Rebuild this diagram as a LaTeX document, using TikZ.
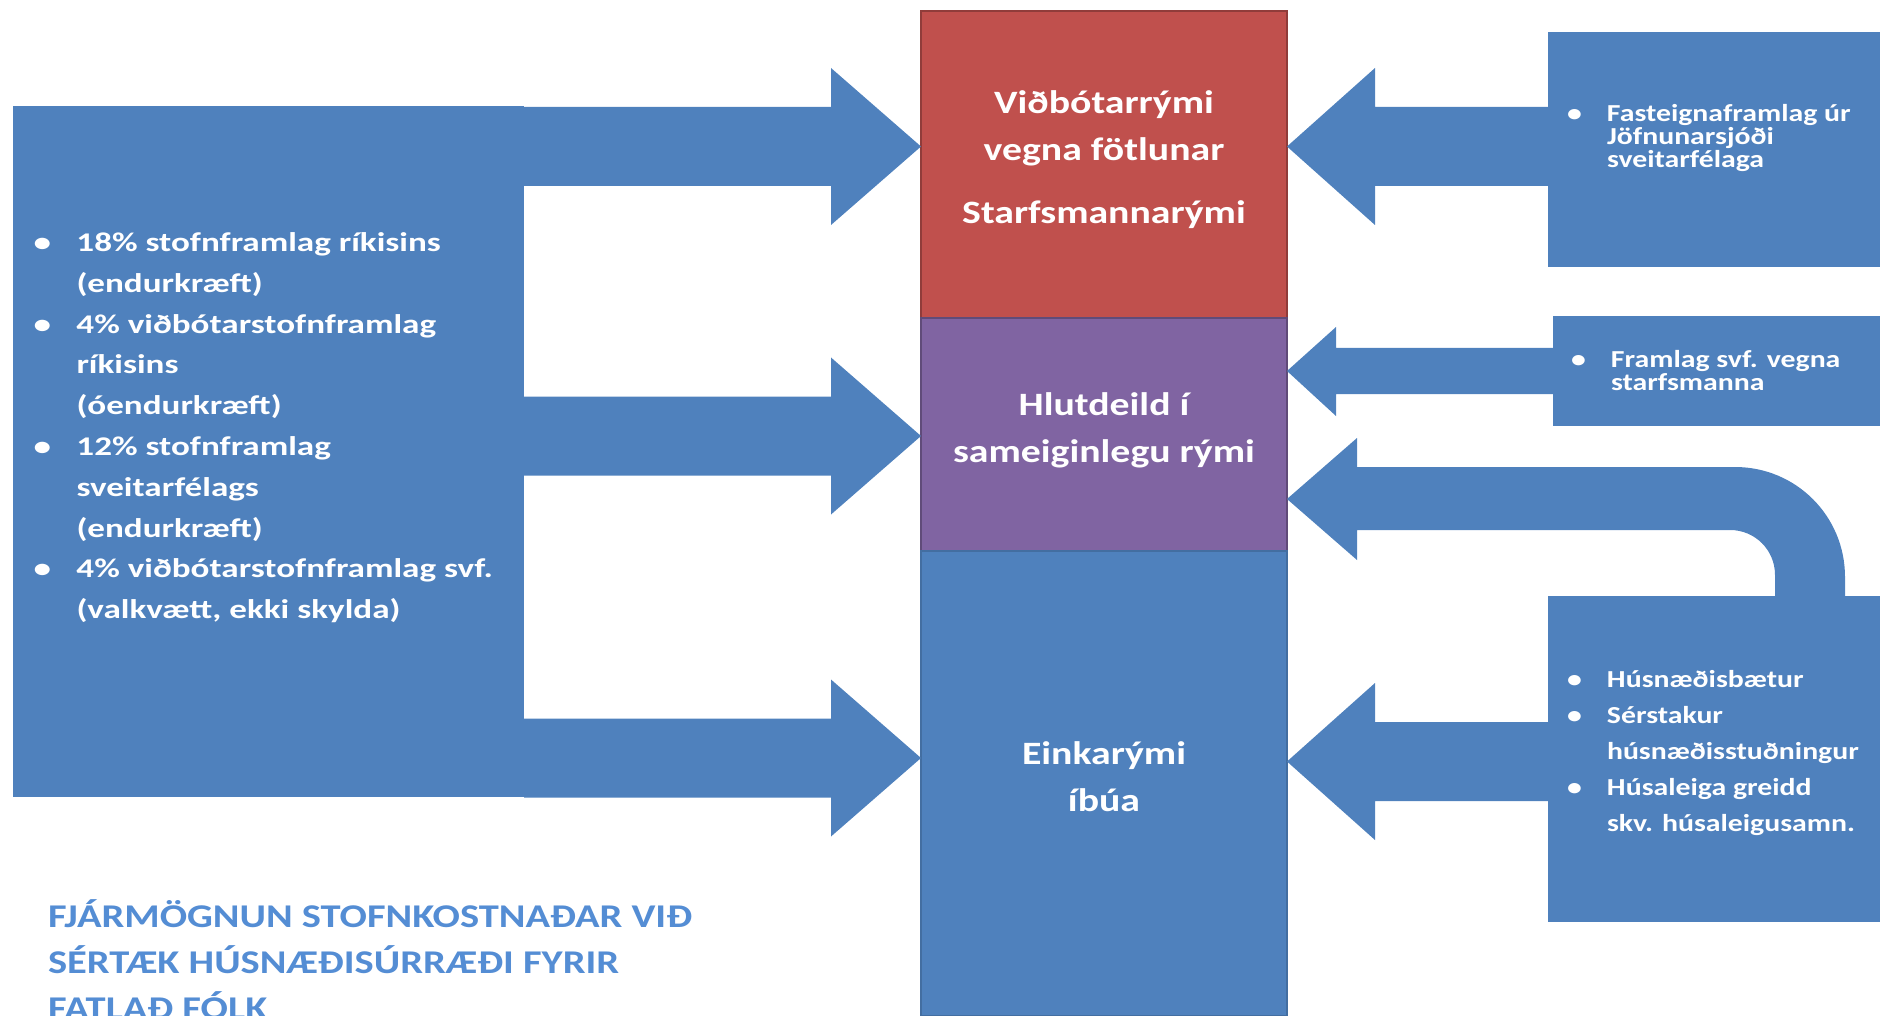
\documentclass[tikz,border=0pt]{standalone}
\usepackage{fontspec}
\setmainfont{Carlito}[FakeStretch=1.22]
\newfontfamily\listfont{Carlito}[FakeStretch=1.3]
\usetikzlibrary{positioning}

\definecolor{boxblue}{RGB}{79,129,189}
\definecolor{boxred}{RGB}{192,80,77}
\definecolor{boxpurple}{RGB}{128,100,162}
\definecolor{titleblue}{RGB}{84,141,212}

\newcommand{\bul}{\makebox[20pt][l]{\textbullet}}
\newcommand{\ind}{\hspace*{20pt}}

\begin{document}
\begin{tikzpicture}[
        x=0.5pt, y=-0.5pt,
        every node/.style={inner sep=0pt, outer sep=0pt},
        block/.style={fill=boxblue},
        room/.style={minimum width=183pt, align=center, text=white, line width=0.6pt, text depth=7pt,
            font=\bfseries\fontsize{16.3}{23.5}\selectfont},
        biglist/.style={anchor=north west, align=left, text=white,
            font=\listfont\bfseries\fontsize{13.5}{20.4}\selectfont},
        smalllist/.style={anchor=north west, align=left, text=white,
            font=\bfseries\fontsize{12.2}{11.5}\selectfont}
    ]
    \useasboundingbox (0,0) rectangle (1880,1016);

    % Rooms
    \node (spare) [room, fill=boxred, draw=boxred!75!black, minimum height=153.5pt] at (1104,164.5)
        {Viðbótarrými\\vegna fötlunar\\[8pt]Starfsmannarými};
    \node (shared) [room, fill=boxpurple, draw=boxpurple!75!black, minimum height=116.5pt, below=0pt of spare]
        {Hlutdeild í\\sameiginlegu rými};
    \node (private) [room, fill=boxblue, draw=boxblue!85!black, minimum height=232.5pt, below=0pt of shared]
        {Einkarými\\íbúa};

    % Contributions
    \node (state) [block, minimum width=255.5pt, minimum height=345.5pt] at (268.5,451.5) {};
    \node (fund) [block, anchor=north west, minimum width=170pt, minimum height=117.5pt] at (1548,32) {};
    \node (staff) [block, anchor=north west, minimum width=170pt, minimum height=55pt] at (1553,316) {};
    \node (benefit) [block, anchor=north west, minimum width=170pt, minimum height=163pt] at (1548,596) {};

    % Texts
    \node (statelist) [biglist] at (33.5,232.5)
        {\makebox[21.5pt][l]{\textbullet}18\% stofnframlag ríkisins\\
         \hspace*{21.5pt}(endurkræft)\\
         \makebox[21.5pt][l]{\textbullet}4\% viðbótarstofnframlag\\
         \hspace*{21.5pt}ríkisins\\
         \hspace*{21.5pt}(óendurkræft)\\
         \makebox[21.5pt][l]{\textbullet}12\% stofnframlag\\
         \hspace*{21.5pt}sveitarfélags\\
         \hspace*{21.5pt}(endurkræft)\\
         \makebox[21.5pt][l]{\textbullet}4\% viðbótarstofnframlag svf.\\
         \hspace*{21.5pt}(valkvætt, ekki skylda)};
    \node (fundlist) [smalllist] at (1567,104)
        {\bul Fasteignaframlag úr\\ \ind Jöfnunarsjóði\\ \ind sveitarfélaga};
    \node (stafflist) [smalllist] at (1571,350)
        {\bul Framlag svf. vegna\\ \ind starfsmanna};
    \node (benefitlist) [smalllist, font=\bfseries\fontsize{12.2}{18}\selectfont] at (1567,670)
        {\bul Húsnæðisbætur\\ \bul Sérstakur\\ \ind húsnæðisstuðningur\\
         \bul Húsaleiga greidd\\ \ind skv. húsaleigusamn.};
    \node (title) [anchor=north west, align=left, text=titleblue,
        font=\bfseries\fontsize{16.6}{23}\selectfont] at (48,900)
        {FJÁRMÖGNUN STOFNKOSTNAÐAR VIÐ\\SÉRTÆK HÚSNÆÐISÚRRÆÐI FYRIR\\FATLAÐ FÓLK};

    % Arrows into the rooms
    \foreach \c in {146.5,436,758}
        \fill[block] (state.east |- 0,\c-39.5) -- (831,\c-39.5) -- (831,\c-78.5) -- (spare.west |- 0,\c)
            -- (831,\c+78.5) -- (831,\c+39.5) -- (state.east |- 0,\c+39.5) -- cycle;
    \foreach \c in {146.5,761.5}
        \fill[block] (fund.west |- 0,\c-39.5) -- (1375,\c-39.5) -- (1375,\c-78.5) -- (spare.east |- 0,\c)
            -- (1375,\c+78.5) -- (1375,\c+39.5) -- (fund.west |- 0,\c+39.5) -- cycle;
    \fill[block] (staff.west |- 0,348) -- (1336,348) -- (1336,327) -- (spare.east |- 0,371)
        -- (1336,416) -- (1336,394) -- (staff.west |- 0,394) -- cycle;
    \fill[block] (spare.east |- 0,499) -- (1357,438) -- (1357,467) -- (1735,467)
        .. controls (1796,467) and (1845,516) .. (1845,577) -- (benefit.north -| 1845,0)
        -- (benefit.north -| 1775,0) -- (1775,575) .. controls (1775,550) and (1755,530) .. (1730,530)
        -- (1357,530) -- (1357,560) -- cycle;
\end{tikzpicture}
\end{document}
